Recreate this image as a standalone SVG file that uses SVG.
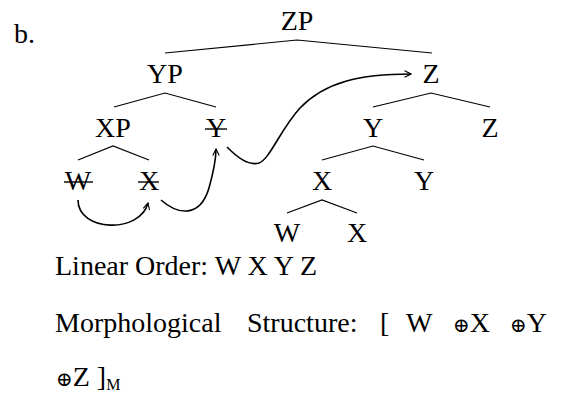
<svg xmlns="http://www.w3.org/2000/svg" width="562" height="397" viewBox="0 0 562 397">
<style>
text{font-family:"Liberation Serif","Tinos","Nimbus Roman","Times New Roman","DejaVu Serif",serif;font-size:28px;fill:#000}
.n text{text-anchor:middle}
.br{fill:none;stroke:#000;stroke-width:1.2}
.mv{fill:none;stroke:#000;stroke-width:1.6}
.st{stroke:#000;stroke-width:1.4}
.op{font-family:"DejaVu Serif","Liberation Serif",serif;font-size:20px}
</style>
<defs>
<marker id="ah" viewBox="0 0 10 10" refX="9" refY="5" markerWidth="8" markerHeight="8" markerUnits="userSpaceOnUse" orient="auto">
<path d="M1,1 L9,5 L1,9" fill="none" stroke="#000" stroke-width="1.4"/>
</marker>
</defs>
<text x="14" y="43">b.</text>
<g id="branches">
<polyline class="br" points="165,53 297,40 432,53"/>
<polyline class="br" points="114,107 165,93 216,107"/>
<polyline class="br" points="373,107 431,93 490,107"/>
<polyline class="br" points="78,160 113,146 149,160"/>
<polyline class="br" points="322,160 373,146 424,160"/>
<polyline class="br" points="287,213 322,200 357,213"/>
</g>
<g class="n">
<g id="ZP"><text x="297" y="30">ZP</text></g>
<g id="YP"><text x="165" y="83">YP</text></g>
<g id="Z1"><text x="431" y="83">Z</text></g>
<g id="XP"><text x="113" y="137">XP</text></g>
<g id="Ytr"><text x="216" y="137">Y</text><line class="st" x1="205" y1="129" x2="227" y2="129"/></g>
<g id="Y1"><text x="373" y="137">Y</text></g>
<g id="Z2"><text x="490" y="137">Z</text></g>
<g id="Wtr"><text x="78" y="190">W</text><line class="st" x1="64" y1="182" x2="93" y2="182"/></g>
<g id="Xtr"><text x="149" y="190">X</text><line class="st" x1="138" y1="182" x2="159" y2="182"/></g>
<g id="X1"><text x="322" y="190">X</text></g>
<g id="Y2"><text x="424" y="190">Y</text></g>
<g id="W2"><text x="287" y="242">W</text></g>
<g id="X2"><text x="357" y="242">X</text></g>
</g>
<g id="connectors">
<path class="mv" d="M78,200 C78,232 140,234 148,203" marker-end="url(#ah)"/>
<path class="mv" d="M161,200 C178,215 200,218 209,188 C214,170 216,158 216,149" marker-end="url(#ah)"/>
<path class="mv" d="M227,147 C237,157 248,166 259,163 C270,159 280,130 300,108 C325,82 360,74 411,74" marker-end="url(#ah)"/>
</g>
<g id="text">
<text x="55" y="275">Linear Order: W X Y Z</text>
<text x="55" y="332">Morphological</text>
<text x="247" y="332">Structure:</text>
<text x="380" y="332">[</text>
<text x="406" y="332">W</text>
<text x="453" y="332"><tspan class="op">⊕</tspan>X</text>
<text x="510" y="332"><tspan class="op">⊕</tspan>Y</text>
<text x="56" y="386"><tspan class="op">⊕</tspan>Z ]<tspan font-size="16" dy="4">M</tspan></text>
</g>
</svg>
